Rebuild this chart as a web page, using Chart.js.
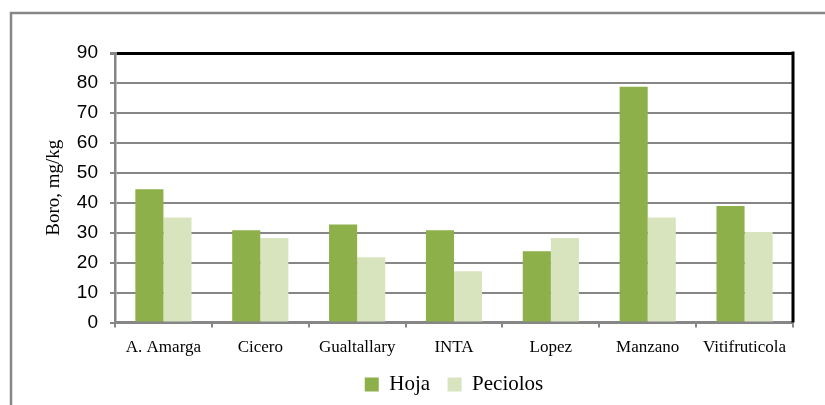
<!DOCTYPE html>
<html>
<head>
<meta charset="utf-8">
<title>Boro</title>
<script src="https://cdn.jsdelivr.net/npm/chart.js@4.4.1/dist/chart.umd.min.js"></script>
<style>
    html, body { margin: 0; padding: 0; background: #fff; }
    #wrap { width: 825px; height: 405px; }
</style>
</head>
<body>
<div id="wrap"><canvas id="chartBoro" width="825" height="405"></canvas></div>
<script>
// Boro en hoja y peciolos por finca (mg/kg)
const fincas = ['A. Amarga', 'Cicero', 'Gualtallary', 'INTA', 'Lopez', 'Manzano', 'Vitifruticola'];
const hoja = [44.5, 30.8, 32.7, 30.8, 23.8, 78.7, 38.9];
const peciolos = [35.1, 28.2, 21.8, 17.1, 28.2, 35.1, 30.2];
const yTicks = [0, 10, 20, 30, 40, 50, 60, 70, 80, 90];

const GRIS = '#868686';
const SERIF = '"Liberation Serif", "Times New Roman", serif';
const SANS = '"Liberation Sans", Arial, sans-serif';

// white background plus the light frame around the whole chart
const marcoExterior = {
    id: 'marcoExterior',
    beforeDraw(chart) {
        const ctx = chart.ctx;
        ctx.save();
        ctx.fillStyle = '#fff';
        ctx.fillRect(0, 0, chart.width, chart.height);
        ctx.strokeStyle = GRIS;
        ctx.lineWidth = 2.5;
        ctx.strokeRect(11, 13, chart.width + 20, chart.height + 20);
        ctx.restore();
    }
};

// black line on the right edge of the plot
const bordeDerecho = {
    id: 'bordeDerecho',
    afterDatasetsDraw(chart) {
        const { ctx, chartArea } = chart;
        ctx.save();
        ctx.strokeStyle = '#000';
        ctx.lineWidth = 3;
        ctx.beginPath();
        ctx.moveTo(chartArea.right, chartArea.top - 1.5);
        ctx.lineTo(chartArea.right, chartArea.bottom);
        ctx.stroke();
        ctx.restore();
    }
};

const ctxBoro = document.getElementById('chartBoro').getContext('2d');
new Chart(ctxBoro, {
    type: 'bar',
    data: {
        labels: fincas,
        datasets: [
            {
                label: 'Hoja',
                data: hoja,
                backgroundColor: '#8db04a',
                borderWidth: 0
            },
            {
                label: 'Peciolos',
                data: peciolos,
                backgroundColor: '#d8e4be',
                borderWidth: 0
            }
        ]
    },
    options: {
        responsive: false,
        animation: false,
        layout: { padding: { top: 53, right: 32, bottom: 0, left: 0 } },
        datasets: {
            bar: { categoryPercentage: 0.58, barPercentage: 1.0 }
        },
        scales: {
            x: {
                grid: {
                    offset: true,
                    drawOnChartArea: false,
                    drawTicks: true,
                    tickLength: 5,
                    color: GRIS,
                    lineWidth: 2
                },
                border: { color: GRIS, width: 2.5 },
                ticks: {
                    color: '#000',
                    padding: 10,
                    font: { family: SERIF, size: 17 }
                },
                afterFit: (scale) => { scale.height = 34; }
            },
            y: {
                min: 0,
                max: 90,
                afterBuildTicks: (scale) => { scale.ticks = yTicks.map(v => ({ value: v })); },
                grid: {
                    color: (c) => (c.tick && c.tick.value === 90 ? '#000' : GRIS),
                    lineWidth: (c) => (c.tick && c.tick.value === 90 ? 3 : 2),
                    tickColor: GRIS,
                    tickLength: 5,
                    drawTicks: true
                },
                border: { color: GRIS, width: 2.5 },
                ticks: {
                    color: '#000',
                    padding: 12,
                    font: { family: SANS, size: 19 }
                },
                title: {
                    display: true,
                    text: 'Boro, mg/kg',
                    color: '#000',
                    padding: { top: 43, bottom: 0 },
                    font: { family: SERIF, size: 19, weight: 'normal' }
                },
                afterFit: (scale) => { scale.width = 115; }
            }
        },
        plugins: {
            legend: {
                position: 'bottom',
                fullSize: false,
                labels: {
                    boxWidth: 14,
                    boxHeight: 14,
                    padding: 17.5,
                    color: '#000',
                    font: { family: SERIF, size: 21 }
                }
            },
            tooltip: { enabled: false }
        }
    },
    plugins: [marcoExterior, bordeDerecho]
});
</script>
</body>
</html>
